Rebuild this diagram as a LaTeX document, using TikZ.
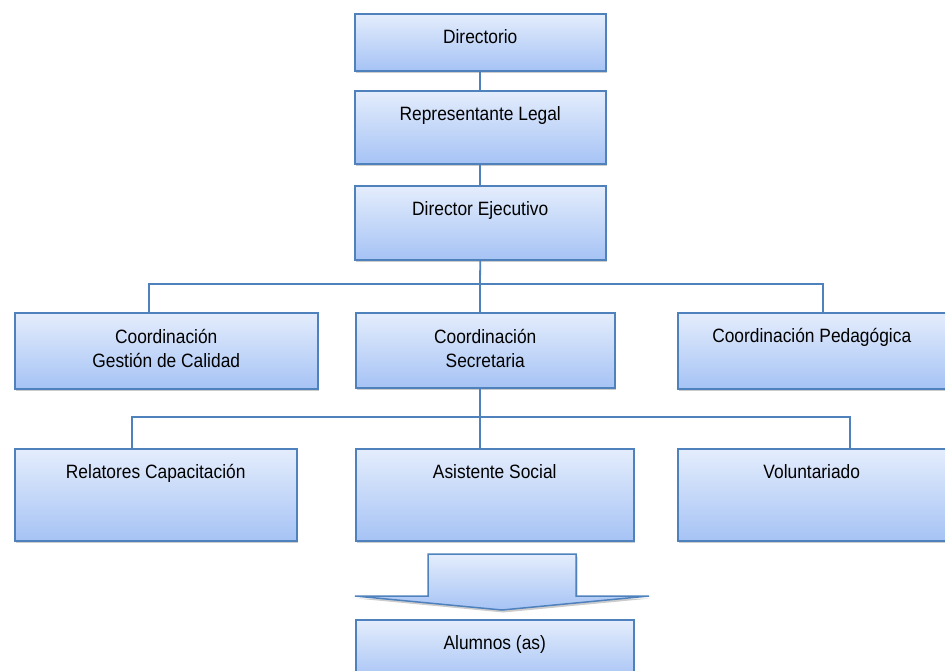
\documentclass[tikz,border=0pt]{standalone}
\usepackage{fontspec}
\setmainfont{Liberation Sans}[FakeStretch=0.9]
\usetikzlibrary{shadows}
\definecolor{boxline}{RGB}{79,129,189}
\definecolor{boxtop}{RGB}{228,237,252}
\definecolor{boxbot}{RGB}{166,195,245}

\begin{document}
\begin{tikzpicture}[x=1pt, y=-1pt,
  every node/.style={font=\fontsize{19.3}{24}\selectfont},
  orgbox/.style={draw=boxline, line width=1.5pt, top color=boxtop, bottom color=boxbot,
    drop shadow={opacity=0.4, shadow xshift=1.5pt, shadow yshift=-2.5pt},
    inner sep=0pt, anchor=north west, align=center, text height=30pt},
  link/.style={draw=boxline, line width=1.8pt}]
\useasboundingbox (0,0) rectangle (945,670);
% Top chain
\node[orgbox, minimum width=251pt, text depth=27pt] (dir) at (354,13) {Directorio};
\node[orgbox, minimum width=251pt, text depth=43pt] (rep) at (354,90) {Representante Legal};
\node[orgbox, minimum width=251pt, text depth=44pt] (dej) at (354,185) {Director Ejecutivo};
\draw[link] (dir.south) -- (rep.north);
\draw[link] (rep.south) -- (dej.north);
% Coordinaciones
\node[orgbox, minimum width=303pt, text height=55pt, text depth=21pt] (gest) at (14,312) {Coordinación\\Gestión de Calidad};
\node[orgbox, minimum width=259pt, text height=55pt, text depth=20pt] (sec) at (355,312) {Coordinación\\Secretaria};
\node[orgbox, minimum width=268pt, text depth=46pt] (ped) at (677,312) {Coordinación Pedagógica};
\coordinate (busA) at (480,284);
\coordinate (gin) at (149,312);
\coordinate (pin) at (823,312);
\draw[link] (dej.south) -- (busA);
\draw[link] (busA) -| (gin);
\draw[link] (busA) -| (pin);
\draw[link] (busA) -- (sec.north -| busA);
% Equipo
\node[orgbox, minimum width=282pt, text depth=62pt] (rel) at (14,448) {Relatores Capacitación};
\node[orgbox, minimum width=278pt, text depth=62pt] (asi) at (355,448) {Asistente Social};
\node[orgbox, minimum width=268pt, text depth=62pt] (vol) at (677,448) {Voluntariado};
\coordinate (busB) at (480,417);
\coordinate (rin) at (132,448);
\coordinate (vin) at (850,448);
\draw[link] (sec.south -| busB) -- (busB);
\draw[link] (busB) -| (rin);
\draw[link] (busB) -| (vin);
\draw[link] (busB) -- (asi.north -| busB);
% Flecha
\path[draw=boxline, line width=1.5pt, top color=boxtop, bottom color=boxbot,
  drop shadow={opacity=0.4, shadow xshift=1.5pt, shadow yshift=-2.5pt}]
  (428,554) -- (576,554) -- (576,596) -- (649,596) -- (502,610) -- (355,596) -- (428,596) -- cycle;
\node[orgbox, minimum width=278pt, text depth=31pt] (alu) at (355,619) {Alumnos (as)};
\end{tikzpicture}
\end{document}
